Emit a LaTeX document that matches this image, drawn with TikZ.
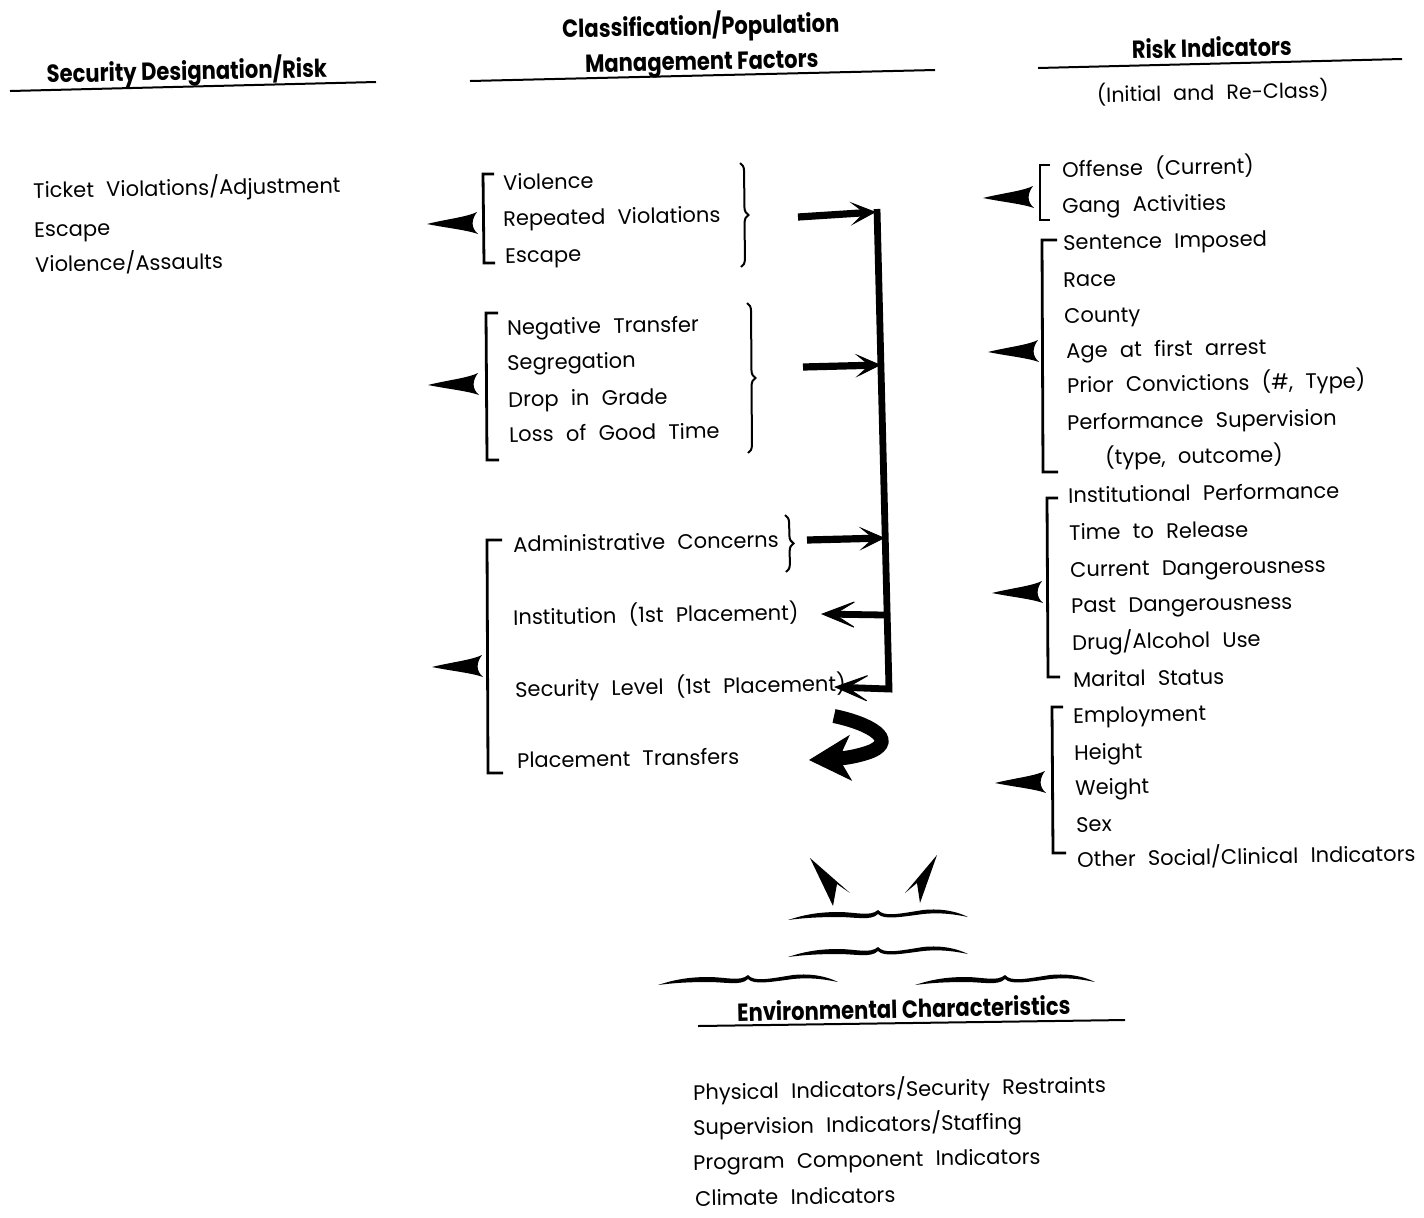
\documentclass[tikz,border=0pt]{standalone}
\usepackage{fontspec}
\setmainfont{Poppins}[WordSpace=2.2]
\newfontfamily\headfont{Poppins}[FakeStretch=0.85]
\usetikzlibrary{arrows.meta,decorations.pathreplacing}

\tikzset{
  item/.style={anchor=base west, inner sep=0pt, rotate=1,
    font=\fontsize{10.5}{12}\selectfont},
  head/.style={anchor=base, inner sep=0pt, rotate=1.2,
    font=\headfont\bfseries\fontsize{12.4}{14}\selectfont},
  sub/.style={anchor=base, inner sep=0pt, rotate=1.2,
    font=\fontsize{10.3}{12}\selectfont},
  rule/.style={line width=1pt},
  bracketline/.style={line width=1.4pt},
  curly/.style={decorate, decoration={brace, amplitude=4pt}, line width=1pt},
  feed/.style={line width=3.6pt,
    -{Stealth[length=13pt,width=12pt,inset=7pt,line width=0.5pt]}},
  back/.style={line width=3.4pt, line join=miter,
    -{Stealth[length=19pt,width=15pt,inset=12pt,line width=0.5pt]}},
  flag/.pic={
    \fill (0,0) .. controls (20,-5) and (40,-7) .. (50,-12)
      .. controls (44,-4) and (44,4) .. (51,10)
      .. controls (40,6) and (20,4) .. (0,0) -- cycle;
  },
  wave/.pic={
    \fill (0,0) .. controls (15,-5) and (30,-8) .. (50,-8)
      .. controls (68,-8) and (82,-3) .. (90,-10)
      .. controls (96,-3) and (110,-6) .. (135,-10)
      .. controls (155,-12) and (170,-8) .. (180,-3)
      .. controls (170,-5) and (155,-8) .. (135,-6)
      .. controls (112,-3) and (96,0) .. (90,-6)
      .. controls (83,1) and (68,-3) .. (50,-3)
      .. controls (30,-3) and (15,-2) .. (0,0) -- cycle;
  }
}

\begin{document}
\begin{tikzpicture}[x=0.5pt,y=-0.5pt]
\useasboundingbox (0,0) rectangle (1424,1217);

% ---------- column headings ----------
\node[head] (hsec) at (187,80) {Security Designation/Risk};
\draw[rule] (10,91) -- (376,82);
\node[head] (hcls1) at (701,35) {Classification/Population};
\node[head] (hcls2) at (702,70) {Management Factors};
\draw[rule] (470,81) -- (935,70);
\node[head] (hrisk) at (1212,57) {Risk Indicators};
\draw[rule] (1038,68) -- (1402,59);
\node[sub] (hriskb) at (1213,100) {(Initial and Re-Class)};

% ---------- security designation ----------
\node[item] (s1) at (33,198) {Ticket Violations/Adjustment};
\node[item] (s2) at (34,237) {Escape};
\node[item] (s3) at (35,272) {Violence/Assaults};

% ---------- management factors ----------
\node[item] (m1) at (503,190) {Violence};
\node[item] (m2) at (503,226) {Repeated Violations};
\node[item] (m3) at (505,263) {Escape};
\draw[bracketline] (494,174) -- (483,174) -- (484,263) -- (495,263);
\draw[curly] (740,163) -- (741,267);
\pic at (427,224) {flag};

\node[item] (n1) at (507,335) {Negative Transfer};
\node[item] (n2) at (507,370) {Segregation};
\node[item] (n3) at (508,407) {Drop in Grade};
\node[item] (n4) at (509,442) {Loss of Good Time};
\draw[bracketline] (498,313) -- (486,313) -- (487,460) -- (499,460);
\draw[curly] (747,303) -- (748,453);
\pic at (428,385) {flag};

\node[item] (p1) at (513,552) {Administrative Concerns};
\node[item] (p2) at (513,625) {Institution (1st Placement)};
\node[item] (p3) at (515,697) {Security Level (1st Placement)};
\node[item] (p4) at (517,768) {Placement Transfers};
\draw[bracketline] (502,540) -- (487,540) -- (488,773) -- (503,773);
\draw[curly] (785,515) -- (786,572);
\pic at (432,667) {flag};

% ---------- feedback bar ----------
\coordinate (bartop) at (877,209);
\coordinate (barbot) at (889,689);
\coordinate (barinst) at (885,615);
\coordinate (f1a) at (798,217);  \coordinate (f1b) at (876,212);
\coordinate (f2a) at (803,367);  \coordinate (f2b) at (881,365);
\coordinate (f3a) at (807,540);  \coordinate (f3b) at (885,538);
\coordinate (instip) at (821,614);
\coordinate (sectip) at (834,687);

\draw[back] (bartop) -- (barbot) -- (sectip);
\draw[back] (barinst) -- (instip);
\draw[feed] (f1a) -- (f1b);
\draw[feed] (f2a) -- (f2b);
\draw[feed] (f3a) -- (f3b);

% turning arrow for placement transfers
\coordinate (tstart) at (834,716);
\coordinate (ttip) at (809,760);
\draw[line width=7pt,
  -{Stealth[length=21pt,width=23pt,inset=6pt,line width=0.5pt]}]
  (tstart) .. controls (872,724) and (896,740) .. (872,751)
  .. controls (862,755) and (848,758) .. (ttip);

% ---------- risk indicators ----------
\node[item] (r1) at (1062,177) {Offense (Current)};
\node[item] (r2) at (1062,213) {Gang Activities};
\draw[bracketline] (1050,165) -- (1040,165) -- (1040,220) -- (1050,220);
\pic at (983,198) {flag};

\node[item] (r3) at (1063,250) {Sentence Imposed};
\node[item] (r4) at (1063,287) {Race};
\node[item] (r5) at (1064,323) {County};
\node[item] (r6) at (1066,358) {Age at first arrest};
\node[item] (r7) at (1067,393) {Prior Convictions (\#, Type)};
\node[item] (r8) at (1067,430) {Performance Supervision};
\node[item] (r9) at (1105,465) {(type, outcome)};
\draw[bracketline] (1057,240) -- (1042,240) -- (1043,472) -- (1058,472);
\pic at (988,352) {flag};

\node[item] (r10) at (1068,503) {Institutional Performance};
\node[item] (r11) at (1069,540) {Time to Release};
\node[item] (r12) at (1070,577) {Current Dangerousness};
\node[item] (r13) at (1071,613) {Past Dangerousness};
\node[item] (r14) at (1072,650) {Drug/Alcohol Use};
\node[item] (r15) at (1073,687) {Marital Status};
\draw[bracketline] (1058,498) -- (1047,498) -- (1048,677) -- (1060,677);
\pic at (992,593) {flag};

\node[item] (r16) at (1073,723) {Employment};
\node[item] (r17) at (1074,760) {Height};
\node[item] (r18) at (1075,795) {Weight};
\node[item] (r19) at (1076,832) {Sex};
\node[item] (r20) at (1077,867) {Other Social/Clinical Indicators};
\draw[bracketline] (1063,707) -- (1052,707) -- (1053,853) -- (1066,853);
\pic at (995,783) {flag};

% ---------- environment ----------
\fill (810,858) -- (850,893) -- (837,884) -- (833,906) -- cycle;
\fill (937,855) -- (905,893) -- (917,883) -- (920,903) -- cycle;
\pic at (788,920) {wave};
\pic at (788,957) {wave};
\pic at (658,985) {wave};
\pic at (915,985) {wave};

\node[head] (henv) at (904,1018) {Environmental Characteristics};
\draw[rule] (698,1026) -- (1125,1020);

\node[item] (e1) at (693,1100) {Physical Indicators/Security Restraints};
\node[item] (e2) at (693,1135) {Supervision Indicators/Staffing};
\node[item] (e3) at (693,1170) {Program Component Indicators};
\node[item] (e4) at (695,1206) {Climate Indicators};
\end{tikzpicture}
\end{document}
